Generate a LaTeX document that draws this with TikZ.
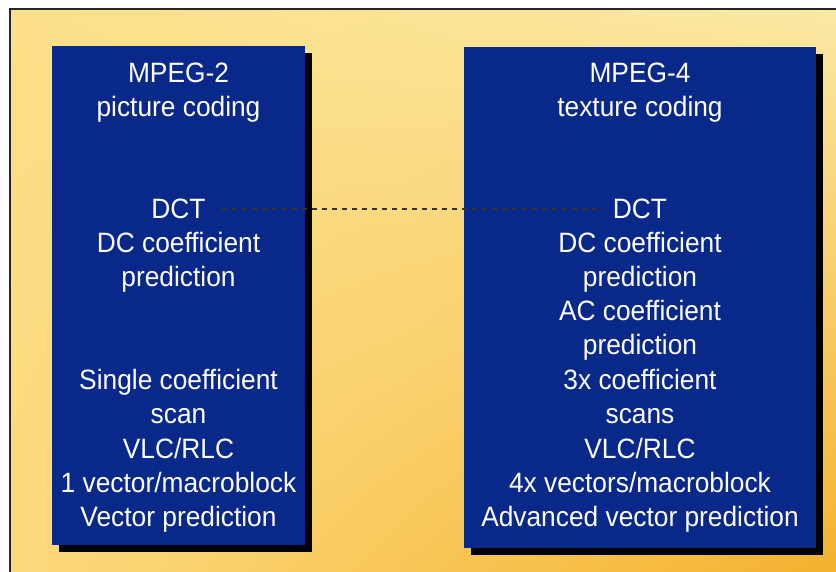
\documentclass[tikz,border=0pt]{standalone}
\usepackage{fontspec}
\setmainfont{Liberation Sans}[FakeStretch=0.94]
\usetikzlibrary{shadings}
\definecolor{boxblue}{HTML}{08288A}
\definecolor{bgtl}{HTML}{FCDF88}
\definecolor{bgtr}{HTML}{FBE8A4}
\definecolor{bgbl}{HTML}{FCDA7E}
\definecolor{bgbr}{HTML}{F4B22E}
\tikzset{
  codebox/.style={draw=none, fill=boxblue},
  shadowbox/.style={fill=black},
  boxtext/.style={text=white, font=\fontsize{28}{34}\selectfont, anchor=base, inner sep=0pt},
}
\begin{document}
\begin{tikzpicture}[x=1pt,y=-1pt]
  \useasboundingbox (0,0) rectangle (836,572);
  \fill[white] (0,0) rectangle (836,572);
  \shade[upper left=bgtl, upper right=bgtr, lower left=bgbl, lower right=bgbr]
    (10,9) rectangle (836,572);
  \draw[line width=1.6pt, black!85] (10,572) -- (10,9) -- (836,9);

  % MPEG-2 box
  \fill[shadowbox] (59,53) rectangle (312,552);
  \fill[codebox] (52,46) rectangle (305,545);
  \foreach \txt/\yy [count=\i] in {MPEG-2/83, picture coding/117, DCT/219,
      DC coefficient/253, prediction/287, Single coefficient/389, scan/423,
      {VLC/RLC}/458, {1 vector/macroblock}/492, Vector prediction/526}
    \node[boxtext] (lft\i) at (178.5,\yy) {\txt};

  % MPEG-4 box
  \fill[shadowbox] (471,54) rectangle (823,555);
  \fill[codebox] (464,47) rectangle (816,548);
  \foreach \txt/\yy [count=\i] in {MPEG-4/83, texture coding/117, DCT/219,
      DC coefficient/253, prediction/287, AC coefficient/321, prediction/355,
      3x coefficient/389, scans/423, {VLC/RLC}/458,
      {4x vectors/macroblock}/492, Advanced vector prediction/526}
    \node[boxtext] (rgt\i) at (640,\yy) {\txt};

  \coordinate (dashA) at ([xshift=16pt,yshift=10pt]lft3.base east);
  \coordinate (dashB) at ([xshift=-10pt,yshift=10pt]rgt3.base west);
  \draw[black!80, line width=1.2pt, dash pattern=on 5pt off 5pt] (dashA) -- (dashB);
\end{tikzpicture}
\end{document}
